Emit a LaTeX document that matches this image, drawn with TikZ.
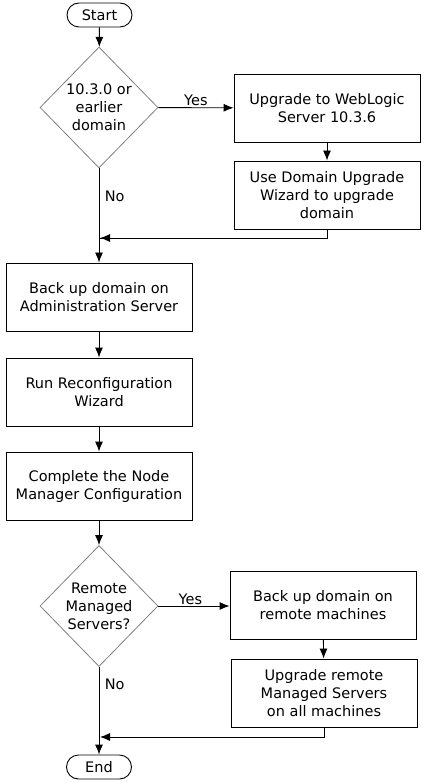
\documentclass[tikz,border=0pt]{standalone}
\usepackage{fontspec}
\setmainfont{DejaVu Sans}
\usetikzlibrary{arrows.meta,shapes.geometric}
\begin{document}
\begin{tikzpicture}[x=1pt,y=-1pt,
  font=\fontsize{14.5}{18}\selectfont,
  box/.style={draw, line width=0.9pt, minimum width=186pt, minimum height=68pt, align=center, inner sep=0pt},
  term/.style={draw, line width=0.9pt, rounded corners=12pt, minimum width=65pt, minimum height=24pt, inner sep=0pt},
  dec/.style={draw=gray, line width=0.8pt, diamond, minimum width=118pt, minimum height=121pt, align=center, inner sep=0pt},
  arr/.style={line width=0.9pt, -{Latex[length=10pt,width=8pt]}},
  ln/.style={line width=0.9pt}]
\useasboundingbox (0,0) rectangle (423,783);
\node[term] (start) at (99.5,15) {Start};
\node[dec] (d1) at (99,107.5) {10.3.0 or\\earlier\\domain};
\node[box] (b1) at (327,108) {Upgrade to WebLogic\\Server 10.3.6};
\node[box] (b2) at (327,195) {Use Domain Upgrade\\Wizard to upgrade\\domain};
\node[box] (b3) at (99,297) {Back up domain on\\Administration Server};
\node[box] (b4) at (99,392) {Run Reconfiguration\\Wizard};
\node[box] (b5) at (99,486) {Complete the Node\\Manager Configuration};
\node[dec] (d2) at (99,606) {Remote\\Managed\\Servers?};
\node[box] (b6) at (323,605) {Back up domain on\\remote machines};
\node[box] (b7) at (324,693) {Upgrade remote\\Managed Servers\\on all machines};
\node[term] (end) at (99,767) {End};
\coordinate (j1) at (99,238);
\coordinate (j2) at (99,737);

\draw[arr] (start) -- (d1);
\draw[arr] (d1) -- node[above, pos=0.5, yshift=-2pt] {Yes} (b1);
\draw[arr] (b1) -- (b2);
\draw[ln] (b2.south) |- (j1);
\draw[arr] (b2.south |- j1) -- ([xshift=1pt]j1);
\draw[arr] (d1) -- node[right, pos=0.3, xshift=2pt] {No} (b3);
\draw[arr] (b3) -- (b4);
\draw[arr] (b4) -- (b5);
\draw[arr] (b5) -- (d2);
\draw[arr] (d2) -- node[above, pos=0.45, yshift=-2pt] {Yes} (b6.west |- d2);
\draw[arr] (b6) -- (b7);
\draw[arr] (b7.south) |- ([xshift=1pt]j2);
\draw[arr] (d2) -- node[right, pos=0.2, xshift=2pt] {No} (end);
\end{tikzpicture}
\end{document}
